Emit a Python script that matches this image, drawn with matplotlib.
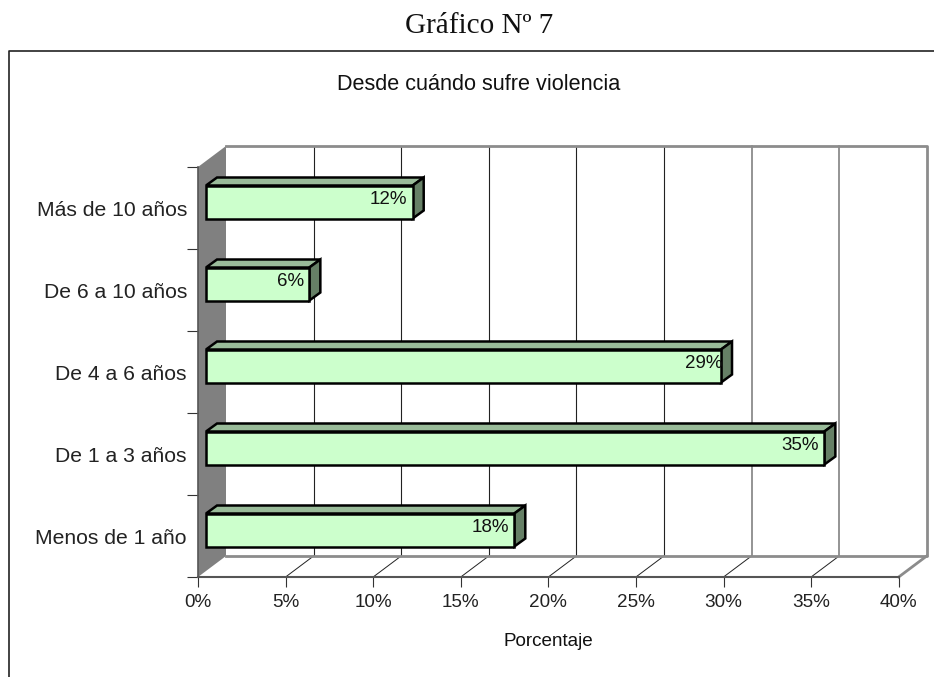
import matplotlib
matplotlib.use("Agg")
import matplotlib.pyplot as plt
from matplotlib.patches import Polygon, Rectangle

categorias = ["Menos de 1 año", "De 1 a 3 años", "De 4 a 6 años", "De 6 a 10 años", "Más de 10 años"]
valores = [17.6, 35.3, 29.4, 5.9, 11.8]
etiquetas = ["18%", "35%", "29%", "6%", "12%"]
ticks_x = [0, 5, 10, 15, 20, 25, 30, 35, 40]

W, H = 934, 677
PX_X = 700.7 / 40   # pixeles por 1%
PX_Y = 82.0         # pixeles por categoria
PROF_X = 28 / PX_X  # fondo 3D en unidades de datos
PROF_Y = 21 / PX_Y
BARRA_X = 11 / PX_X
BARRA_Y = 8 / PX_Y
INICIO = 8 / PX_X
ALTO = 33 / PX_Y

plt.rcParams['font.family'] = ['Liberation Sans', 'DejaVu Sans']

fig = plt.figure(figsize=(W / 100, H / 100), dpi=100, facecolor="white")
ax = fig.add_axes([198 / W, 1 - 577 / H, 700.7 / W, 410 / H])
ax.set_xlim(0, 40)
ax.set_ylim(0, 5)
for s in ax.spines.values():
    s.set_visible(False)
ax.patch.set_visible(False)

# pared izquierda, gris oscuro
ax.add_patch(Polygon([(0, 0), (PROF_X, PROF_Y), (PROF_X, 5 + PROF_Y), (0, 5)], closed=True,
                     fc="#808080", ec="none", clip_on=False, zorder=1))
# fondo: lineas de rejilla y marco gris
for t in ticks_x[1:-1]:
    ax.plot([t, t + PROF_X], [0, PROF_Y], color="#222222", lw=0.7, clip_on=False, zorder=1)
    ax.plot([t + PROF_X, t + PROF_X], [PROF_Y, 5 + PROF_Y], color="#222222" if t < 30 else "#777777",
            lw=0.8 if t < 30 else 1.1, clip_on=False, zorder=1)
ax.plot([PROF_X, 40 + PROF_X, 40 + PROF_X, PROF_X], [PROF_Y, PROF_Y, 5 + PROF_Y, 5 + PROF_Y],
        color="#8c8c8c", lw=2, clip_on=False, zorder=2)
ax.plot([40, 40 + PROF_X], [0, PROF_Y], color="#8c8c8c", lw=2, clip_on=False, zorder=2)
ax.plot([0, 0], [0, 5], color="#555555", lw=1.2, clip_on=False, zorder=2)
ax.plot([0, 40], [0, 0], color="#555555", lw=1.5, clip_on=False, zorder=2)

# barras con caras en 3D
for i, (v, et) in enumerate(zip(valores, etiquetas)):
    x0 = INICIO
    x1 = INICIO + v
    y0 = i + 0.5 - ALTO / 2 + 6 / PX_Y
    y1 = y0 + ALTO
    ax.add_patch(Polygon([(x0, y1), (x1, y1), (x1 + BARRA_X, y1 + BARRA_Y), (x0 + BARRA_X, y1 + BARRA_Y)],
                         closed=True, fc="#99bb99", ec="black", lw=1.8, joinstyle="miter", clip_on=False, zorder=3))
    ax.add_patch(Polygon([(x1, y0), (x1 + BARRA_X, y0 + BARRA_Y), (x1 + BARRA_X, y1 + BARRA_Y), (x1, y1)],
                         closed=True, fc="#668066", ec="black", lw=1.8, joinstyle="miter", clip_on=False, zorder=3))
    ax.add_patch(Rectangle((x0, y0), v, ALTO, fc="#ccffcc", ec="black", lw=1.8, clip_on=False, zorder=4))
    # la etiqueta de 29% se sale un poco de la barra en el original
    ajuste = 0.08 if et == "29%" else -0.3
    ax.text(x1 + ajuste, y0 + ALTO * 0.57, et, ha="right", va="center", fontsize=13.5, color="#111111", zorder=5)

ax.set_xticks(ticks_x)
ax.set_xticklabels([f"{t}%" for t in ticks_x], fontsize=13.6, color="#222222")
ax.set_yticks(range(6))
ax.set_yticklabels([])
ax.set_yticks([i + 0.5 for i in range(5)], minor=True)
ax.set_yticklabels(categorias, minor=True, fontsize=15.2, color="#222222")
ax.tick_params(axis="x", length=7, width=0.8, color="#333333", pad=5.5)
ax.tick_params(axis="y", which="major", length=8, width=0.8, color="#333333")
ax.tick_params(axis="y", which="minor", length=0, pad=8)

# marco del grafico y textos sueltos
fig.add_artist(plt.Line2D([9 / W, 9 / W, 1], [0, 1 - 51 / H, 1 - 51 / H], color="#222222", lw=1.2))
fig.text(479 / W, 1 - 85 / H, "Desde cuándo sufre violencia", ha="center", va="center", fontsize=15.6, color="#111111")
fig.text(548 / W, 1 - 642 / H, "Porcentaje", ha="center", va="center", fontsize=13.6, color="#111111")
fig.text(479 / W, 1 - 26 / H, "Gráfico Nº 7", ha="center", va="center", fontsize=21,
         family=["Liberation Serif", "DejaVu Serif"], color="#111111")

fig.savefig("out.png", dpi=100)
